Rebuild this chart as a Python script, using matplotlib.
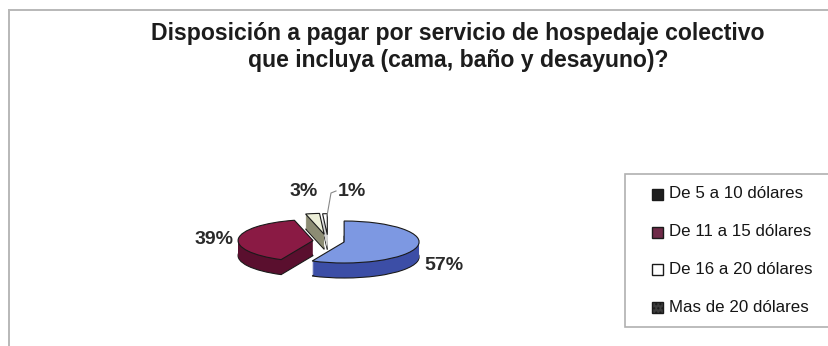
import matplotlib
matplotlib.use("Agg")
import matplotlib.pyplot as plt
from matplotlib.patches import Rectangle
from matplotlib.lines import Line2D

# Survey data
categories = ["De 5 a 10 dólares", "De 11 a 15 dólares", "De 16 a 20 dólares", "Mas de 20 dólares"]
percentages = [57, 39, 3, 1]
pct_labels = ["57%", "39%", "3%", "1%"]
title = "Disposición a pagar por servicio de hospedaje colectivo\nque incluya (cama, baño y desayuno)?"

# Styling
top_colors = ["#7d98e2", "#8a1a44", "#eceed8", "#ffffff"]
side_colors = ["#3c4ea6", "#5a0f2e", "#8c8c74", "#d6d6d6"]
legend_colors = ["#1e1e1e", "#6e2a48", "#ffffff", "#3c3c3c"]
explode = [0.22, 0.20, 0.32, 0.30]

W, H = 829, 346
fig = plt.figure(figsize=(W / 100, H / 100), dpi=100)
fig.patch.set_facecolor("white")
plt.rcParams["font.family"] = ["Liberation Sans", "DejaVu Sans"]


def fx(px):
    return px / W


def fy(py):
    return 1 - py / H


# Chart area frame (top and left borders)
fig.add_artist(Line2D([fx(9), fx(835)], [fy(10), fy(10)], color="#b8b8b8", lw=1.4))
fig.add_artist(Line2D([fx(9), fx(9)], [fy(10), fy(350)], color="#b8b8b8", lw=1.4))

# Title
fig.text(fx(458), fy(47), title, ha="center", va="center", fontsize=16.6,
         fontweight="bold", color="#1c1c1c", linespacing=1.2)

# Pie axes: flattened ellipse (x unit = 75 px, y unit = 21 px)
cx, cy = 328, 241
ux, uy = 75.0, 21.0
x0, x1 = -2.0, 2.0
y0, y1 = -3.0, 2.5
ax = fig.add_axes([fx(cx + x0 * ux), fy(cy - y0 * uy),
                   (x1 - x0) * ux / W, (y1 - y0) * uy / H])

depth_px = 15
for k in range(depth_px, 0, -1):
    edge = "#1a1a1a" if k == depth_px else "none"
    ax.pie(percentages, colors=side_colors, startangle=90, counterclock=False,
           explode=explode, center=(0, -k / uy), radius=1.0,
           wedgeprops=dict(linewidth=0.8 if k == depth_px else 0, edgecolor=edge))
ax.pie(percentages, colors=top_colors, startangle=90, counterclock=False,
       explode=explode, center=(0, 0), radius=1.0,
       wedgeprops=dict(linewidth=0.8, edgecolor="#1a1a1a"))
ax.set_aspect("auto")
ax.set_xlim(x0, x1)
ax.set_ylim(y0, y1)
ax.axis("off")

# Percentage labels
label_pos = [(444, 265), (214, 240), (304, 191), (352, 191)]
for txt, (px, py) in zip(pct_labels, label_pos):
    fig.text(fx(px), fy(py), txt, ha="center", va="center", fontsize=14,
             fontweight="bold", color="#2a2a2a")
# Leader line for the smallest slice
fig.add_artist(Line2D([fx(336), fx(331), fx(327)], [fy(191), fy(193), fy(216)],
                      color="#888888", lw=0.8))

# Legend box (runs past the right edge)
fig.add_artist(Rectangle((fx(625), fy(327)), fx(220), (327 - 174) / H,
                         facecolor="white", edgecolor="#b0b0b0", lw=1.2))
legend_y = [194, 232, 269, 307]
for name, col, ly in zip(categories, legend_colors, legend_y):
    sq = Rectangle((fx(652), fy(ly + 5.5)), 11 / W, 11 / H, facecolor=col,
                   edgecolor="#1a1a1a", lw=1.0,
                   hatch="...." if name.startswith("Mas") else None)
    fig.add_artist(sq)
    fig.text(fx(669), fy(ly), name, ha="left", va="center", fontsize=12.2,
             color="#151515")

fig.savefig("out.png", dpi=100, facecolor="white")
